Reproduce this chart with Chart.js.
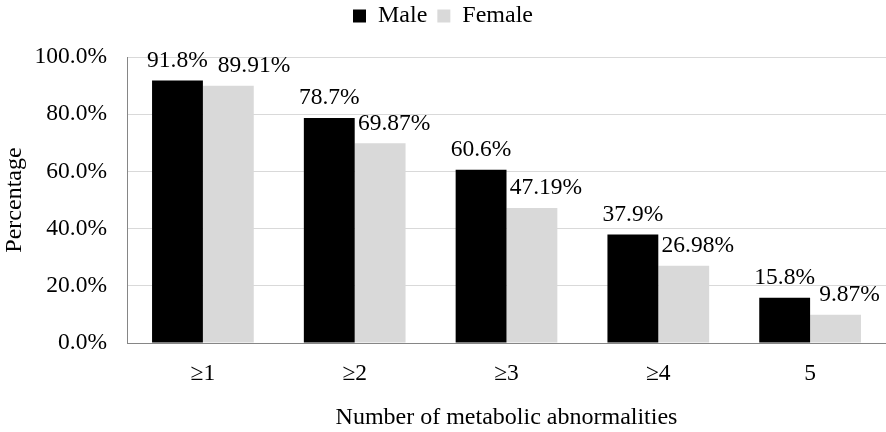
<!DOCTYPE html>
<html>
<head>
<meta charset="utf-8">
<script src="https://cdn.jsdelivr.net/npm/chart.js@4/dist/chart.umd.min.js"></script>
<style>
  html, body { margin: 0; padding: 0; background: #fff; }
  #wrap { width: 886px; height: 432px; }
</style>
</head>
<body>
<div id="wrap"><canvas id="chart"></canvas></div>
<script>
const categories = ['≥1', '≥2', '≥3', '≥4', '5']
const male = [91.8, 78.7, 60.6, 37.9, 15.8]
const female = [89.91, 69.87, 47.19, 26.98, 9.87]
const maleLabels = ['91.8%', '78.7%', '60.6%', '37.9%', '15.8%']
const femaleLabels = ['89.91%', '69.87%', '47.19%', '26.98%', '9.87%']

const serif = '"Liberation Serif", "Times New Roman", serif'
const font = { family: serif, size: 24 }
const tickFont = { family: serif, size: 23.5 }

// value labels above bars; female label nudged right, further if it would collide with the male one
const valueLabels = {
    id: 'valueLabels',
    afterDatasetsDraw(chart) {
        const { ctx } = chart
        const m = chart.getDatasetMeta(0).data
        const f = chart.getDatasetMeta(1).data
        ctx.save()
        ctx.font = `23.5px ${serif}`
        ctx.fillStyle = '#000'
        ctx.textAlign = 'center'
        ctx.textBaseline = 'bottom'
        m.forEach((bar, j) => {
            ctx.fillText(maleLabels[j], bar.x, bar.y - 8)

            const fb = f[j]
            const mw = ctx.measureText(maleLabels[j]).width
            const fw = ctx.measureText(femaleLabels[j]).width
            let cx = fb.x + 14
            if (Math.abs(fb.y - bar.y) < 16) {
                cx = Math.max(cx, bar.x + mw / 2 + 10 + fw / 2)
            }
            ctx.fillText(femaleLabels[j], cx, fb.y - 8)
        })
        ctx.restore()
    }
}

const legendHeight = {
    id: 'legendHeight',
    beforeLayout(chart) {
        const lg = chart.legend
        if (lg && !lg._fixed) {
            const fit = lg.fit
            lg.fit = function () {
                fit.call(this)
                this.height = 63
            }
            lg._fixed = true
        }
    }
}

new Chart(document.getElementById('chart'), {
    type: 'bar',
    data: {
        labels: categories,
        datasets: [
            { label: 'Male', data: male, backgroundColor: '#000000', categoryPercentage: 0.67, barPercentage: 1 },
            { label: 'Female', data: female, backgroundColor: '#d9d9d9', categoryPercentage: 0.67, barPercentage: 1 },
        ],
    },
    options: {
        responsive: true,
        maintainAspectRatio: false,
        animation: false,
        layout: { padding: { top: -6, right: 0, bottom: 0, left: 0 } },
        plugins: {
            tooltip: { enabled: false },
            legend: {
                position: 'top',
                labels: { font, color: '#000', boxWidth: 13, boxHeight: 13, padding: 10 },
            },
        },
        scales: {
            x: {
                grid: { display: false },
                border: { color: '#868686' },
                ticks: { font: tickFont, color: '#000', padding: 9 },
                title: { display: true, text: 'Number of metabolic abnormalities', font, color: '#000', padding: { top: 0, bottom: 0 } },
                afterFit(scale) { scale.height = 89 },
            },
            y: {
                min: 0,
                max: 100,
                grid: { color: '#d9d9d9', drawTicks: false },
                border: { color: '#868686' },
                ticks: { stepSize: 20, font: tickFont, color: '#000', padding: 20, callback: v => v.toFixed(1) + '%' },
                title: { display: true, text: 'Percentage', font, color: '#000', padding: 0 },
                afterFit(scale) { scale.width = 127 },
            },
        },
    },
    plugins: [valueLabels, legendHeight],
})
</script>
</body>
</html>
